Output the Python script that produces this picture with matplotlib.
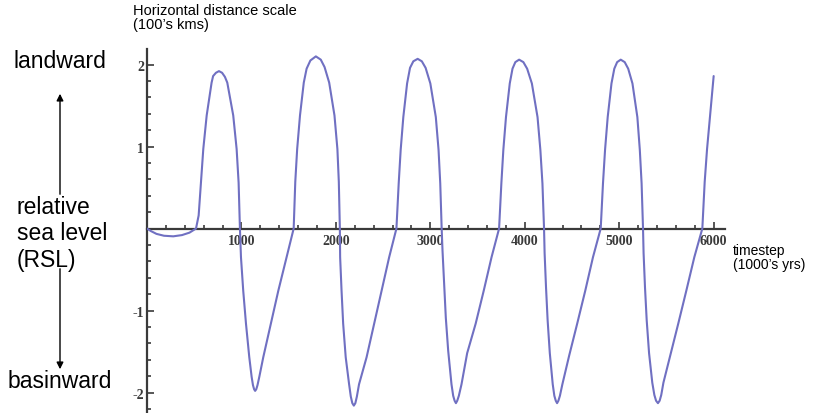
import matplotlib
matplotlib.use("Agg")
import matplotlib.pyplot as plt
from matplotlib.patches import FancyArrowPatch
from matplotlib.ticker import MultipleLocator, FixedLocator

# --- data: (timestep, RSL) per swing ---
cycle1 = [
    (0, 0), (40, -0.03), (100, -0.065), (180, -0.088), (278, -0.095),
    (370, -0.08), (450, -0.05), (519, 0), (547, 0.16), (571, 0.56),
    (596, 0.97), (632, 1.38), (684, 1.78), (700, 1.86), (730, 1.90),
    (762, 1.92), (795, 1.90), (825, 1.85), (850, 1.78), (913, 1.38),
    (949, 0.97), (970, 0.56), (984, 0), (995, -0.35), (1019, -0.76),
    (1048, -1.16), (1083, -1.57), (1108, -1.81), (1122, -1.91),
    (1134, -1.96), (1145, -1.98), (1157, -1.96), (1170, -1.91),
    (1189, -1.81), (1231, -1.57), (1312, -1.16), (1390, -0.76),
    (1478, -0.35),
]
cycle2 = [
    (1553, 0), (1570, 0.57), (1590, 0.97), (1620, 1.38), (1660, 1.78),
    (1690, 1.95), (1730, 2.05), (1788, 2.10), (1840, 2.06), (1880, 1.97),
    (1929, 1.78), (1985, 1.38), (2016, 0.97), (2031, 0.57), (2042, 0),
    (2045, -0.35), (2060, -0.76), (2077, -1.16), (2104, -1.57),
    (2140, -1.90), (2158, -2.05), (2174, -2.13), (2190, -2.16),
    (2206, -2.13), (2222, -2.05), (2245, -1.90), (2325, -1.57),
    (2405, -1.16), (2483, -0.76), (2564, -0.35),
]
cycle3 = [
    (2641, 0), (2665, 0.55), (2686, 0.96), (2714, 1.36), (2754, 1.77),
    (2785, 1.96), (2820, 2.04), (2866, 2.07), (2910, 2.04), (2950, 1.96),
    (3000, 1.77), (3058, 1.36), (3087, 0.96), (3105, 0.55), (3120, 0),
    (3129, -0.27), (3146, -0.68), (3164, -1.09), (3189, -1.49),
    (3224, -1.90), (3242, -2.04), (3257, -2.10), (3271, -2.13),
    (3285, -2.10), (3302, -2.04), (3330, -1.90), (3390, -1.52),
    (3480, -1.16), (3565, -0.76), (3648, -0.35),
]
cycle4 = [
    (3728, 0), (3752, 0.55), (3773, 0.96), (3801, 1.36), (3841, 1.77),
    (3870, 1.95), (3900, 2.03), (3940, 2.06), (3985, 2.03), (4025, 1.95),
    (4075, 1.77), (4135, 1.36), (4165, 0.96), (4187, 0.55), (4204, 0),
    (4210, -0.30), (4225, -0.72), (4242, -1.12), (4265, -1.52),
    (4296, -1.90), (4313, -2.04), (4328, -2.10), (4342, -2.13),
    (4356, -2.10), (4372, -2.04), (4398, -1.90), (4470, -1.55),
    (4555, -1.16), (4640, -0.76), (4722, -0.35),
]
cycle5 = [
    (4804, 0), (4828, 0.55), (4850, 0.96), (4878, 1.36), (4918, 1.77),
    (4948, 1.95), (4978, 2.03), (5016, 2.06), (5058, 2.03), (5095, 1.95),
    (5140, 1.77), (5192, 1.36), (5218, 0.96), (5237, 0.55), (5252, 0),
    (5258, -0.30), (5273, -0.72), (5291, -1.12), (5316, -1.52),
    (5350, -1.88), (5372, -2.03), (5390, -2.10), (5410, -2.13),
    (5428, -2.10), (5445, -2.03), (5468, -1.88), (5540, -1.55),
    (5625, -1.16), (5710, -0.76), (5795, -0.35),
]
cycle6 = [
    (5880, 0), (5905, 0.57), (5930, 0.97), (5962, 1.38), (6000, 1.86),
]

x_ticks = [1000, 2000, 3000, 4000, 5000, 6000]
x_ticklabels = ["1000", "2000", "3000", "4000", "5000", "6000"]
y_ticks = [-2, -1, 1, 2]
y_ticklabels = ["-2", "-1", "1", "2"]

points = cycle1 + cycle2 + cycle3 + cycle4 + cycle5 + cycle6
timestep = [p[0] for p in points]
rsl = [p[1] for p in points]

LINE_COLOR = "#7070c2"
AXIS_COLOR = "#3a3a3a"

fig = plt.figure(figsize=(8.15, 4.14), dpi=100)
ax = fig.add_axes([147 / 815, 0, (725 - 147) / 815, 364 / 414])

ax.plot(timestep, rsl, color=LINE_COLOR, lw=1.5, solid_capstyle="round",
        solid_joinstyle="round", zorder=3)

ax.set_xlim(0, 6120)
ax.set_ylim(-2.25, 2.19)

# axes crossing at the origin
ax.spines["bottom"].set_position(("data", 0))
ax.spines["left"].set_position(("data", 0))
for s in ("top", "right"):
    ax.spines[s].set_visible(False)
for s in ("bottom", "left"):
    ax.spines[s].set_color(AXIS_COLOR)
    ax.spines[s].set_linewidth(1.6)

ax.xaxis.set_major_locator(FixedLocator(x_ticks))
ax.set_xticklabels(x_ticklabels)
ax.xaxis.set_minor_locator(MultipleLocator(200))
ax.yaxis.set_major_locator(FixedLocator(y_ticks))
ax.set_yticklabels(y_ticklabels)
ax.yaxis.set_minor_locator(MultipleLocator(0.2))

ax.tick_params(which="both", direction="in", color=AXIS_COLOR, width=1.2)
ax.tick_params(which="major", length=5)
ax.tick_params(which="minor", length=3)
ax.tick_params(axis="x", pad=4)
ax.tick_params(axis="y", pad=2)
for lab in ax.get_xticklabels() + ax.get_yticklabels():
    lab.set_family("Liberation Serif")
    lab.set_fontweight("bold")
    lab.set_fontsize(10)
    lab.set_color(AXIS_COLOR)

# annotations around the plot
sans = "Liberation Sans"
fig.text(133 / 815, 1 - 18 / 414, "Horizontal distance scale\n(100\u2019s kms)",
         family=sans, fontsize=10.5, va="center", ha="left", linespacing=1.0)
fig.text(733 / 815, 1 - 258 / 414, "timestep\n(1000\u2019s yrs)",
         family=sans, fontsize=10, va="center", ha="left", linespacing=1.0)

fig.text(60 / 815, 1 - 62 / 414, "landward", family=sans, fontsize=16.5,
         ha="center", va="center")
fig.text(17 / 815, 1 - 234 / 414, "relative\nsea level\n(RSL)", family=sans,
         fontsize=16.5, ha="left", va="center", linespacing=1.22)
fig.text(60 / 815, 1 - 382 / 414, "basinward", family=sans, fontsize=16.5,
         ha="center", va="center")

arrow = dict(arrowstyle="-|>", color="black", lw=1.0, mutation_scale=10,
             transform=fig.transFigure)
fig.add_artist(FancyArrowPatch((60 / 815, 1 - 198 / 414),
                               (60 / 815, 1 - 92 / 414), **arrow))
fig.add_artist(FancyArrowPatch((60 / 815, 1 - 267 / 414),
                               (60 / 815, 1 - 373 / 414), **arrow))

fig.savefig("out.png", dpi=100)
